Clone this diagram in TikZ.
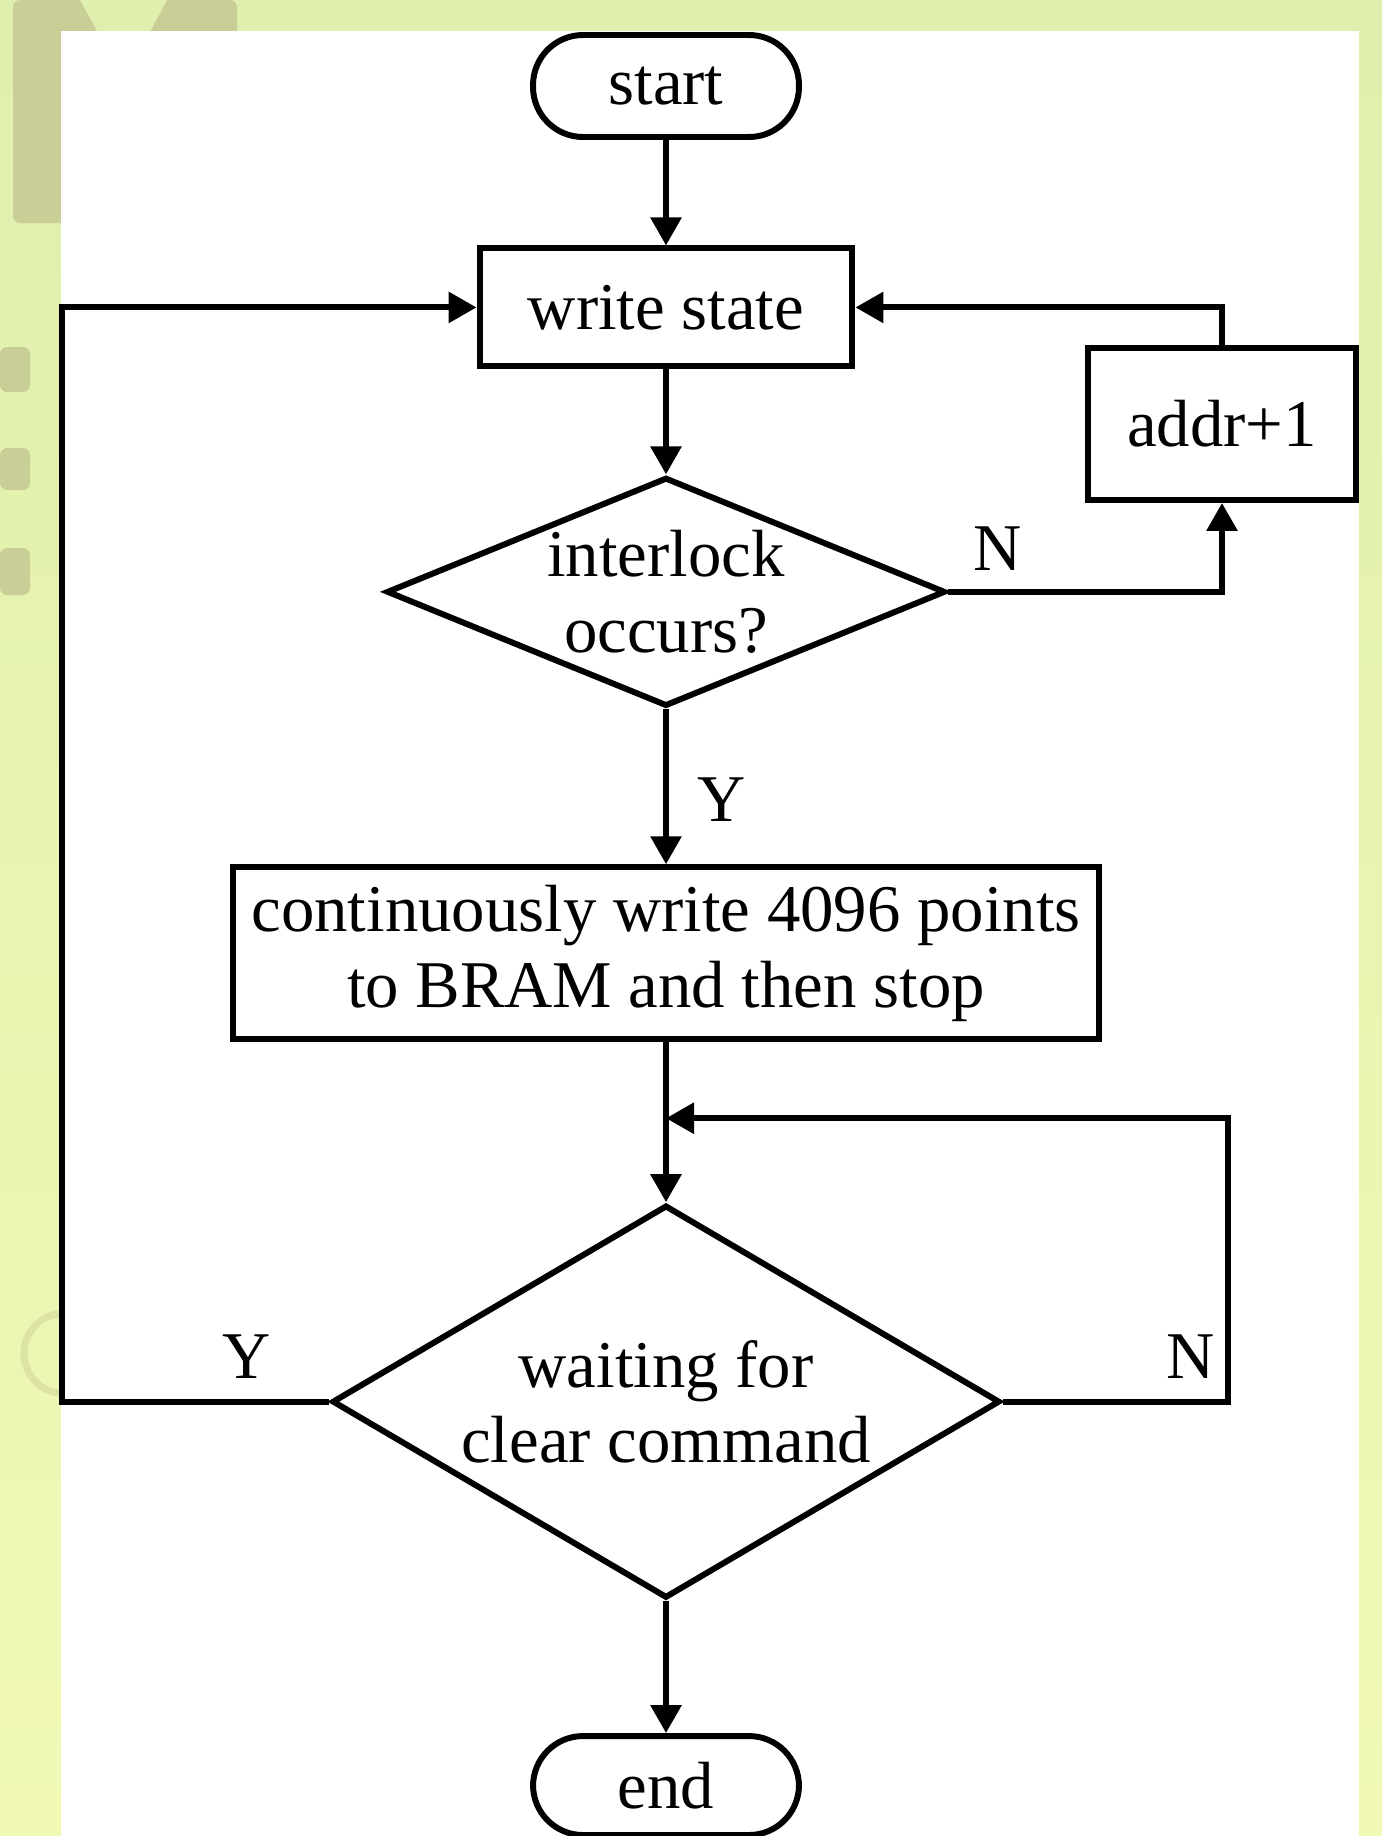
\documentclass[tikz,border=0pt]{standalone}
\usepackage{fontspec}
\setmainfont{Liberation Serif}
\usetikzlibrary{arrows.meta,positioning,shapes.geometric}

\definecolor{bgtop}{HTML}{DFEFAD}
\definecolor{bgbot}{HTML}{F1F9B5}
\definecolor{wmolive}{HTML}{C9CD96}

\begin{document}
\begin{tikzpicture}[
    x=0.02cm, y=-0.02cm,
    font=\fontsize{38}{43}\selectfont,
    line width=3.4pt,
    term/.style={draw, rounded corners=1cm, minimum width=5.32cm, minimum height=2.04cm},
    box/.style={draw, align=center, minimum width=7.46cm, minimum height=2.36cm},
    decision/.style={draw, diamond, inner sep=0pt},
    lbl/.style={inner sep=2pt},
    arr/.style={-{Triangle[length=5.6mm, width=6mm]}}
]
\useasboundingbox (0,0) rectangle (1382,1836);
% backdrop and watermark
\fill[top color=bgtop, bottom color=bgbot] (0,0) rectangle (1382,1836);
\fill[wmolive, rounded corners=4] (13,0) rectangle (237,223);
\fill[bgtop] (80,0) -- (167,0) -- (124,80) -- cycle;
\foreach \ya/\yb in {347/392, 448/490, 548/595}
    \fill[wmolive, rounded corners=4] (0,\ya) rectangle (30,\yb);
\draw[wmolive!50!bgbot, line width=4pt] (84,1388) arc[start angle=60, end angle=300, radius=40];
\fill[white] (61,31) rectangle (1359,1836);

\node[term] (start) at (666,86) {start};
\node[box, below=2.11cm of start] (wstate) {write state};
\node[decision, minimum width=11.18cm, minimum height=4.58cm, below=2.1cm of wstate] (lock) {};
\node[align=center] at (lock) {interlock\\occurs?};
\node[box, minimum width=5.36cm, minimum height=3.04cm] (addr) at (1222,424) {addr+1};
\node[box, minimum width=17.34cm, minimum height=3.44cm, below=3.1cm of lock] (cont) {continuously write 4096 points\\to BRAM and then stop};
\node[decision, minimum width=13.36cm, minimum height=7.86cm, below=3.2cm of cont] (clear) {};
\node[align=center] at (clear) {waiting for\\clear command};
\node[term, minimum height=1.98cm, below=2.64cm of clear] (finish) {end};
\path (cont.south) ++(0,76) coordinate (join);

\draw[arr] (start) -- (wstate);
\draw[arr] (wstate) -- (lock);
\draw[arr] (lock) -- node[lbl, right, pos=0.58, xshift=0.5cm] {Y} (cont);
\draw[arr] (lock.east) -| node[lbl, above, pos=0.09, yshift=0.3cm] {N} (addr.south);
\draw[arr] (addr.north) |- (wstate.east);
\draw[arr] (cont) -- (clear);
\draw[arr] (clear.east) -- ++(225,0) node[lbl, above left, xshift=-0.14cm, yshift=0.34cm] {N} |- (join);
\draw[arr] (clear.west) -- node[lbl, above, pos=0.31, yshift=0.34cm] {Y} ++(-267,0) |- (wstate.west);
\draw[arr] (clear) -- (finish);
\end{tikzpicture}
\end{document}
